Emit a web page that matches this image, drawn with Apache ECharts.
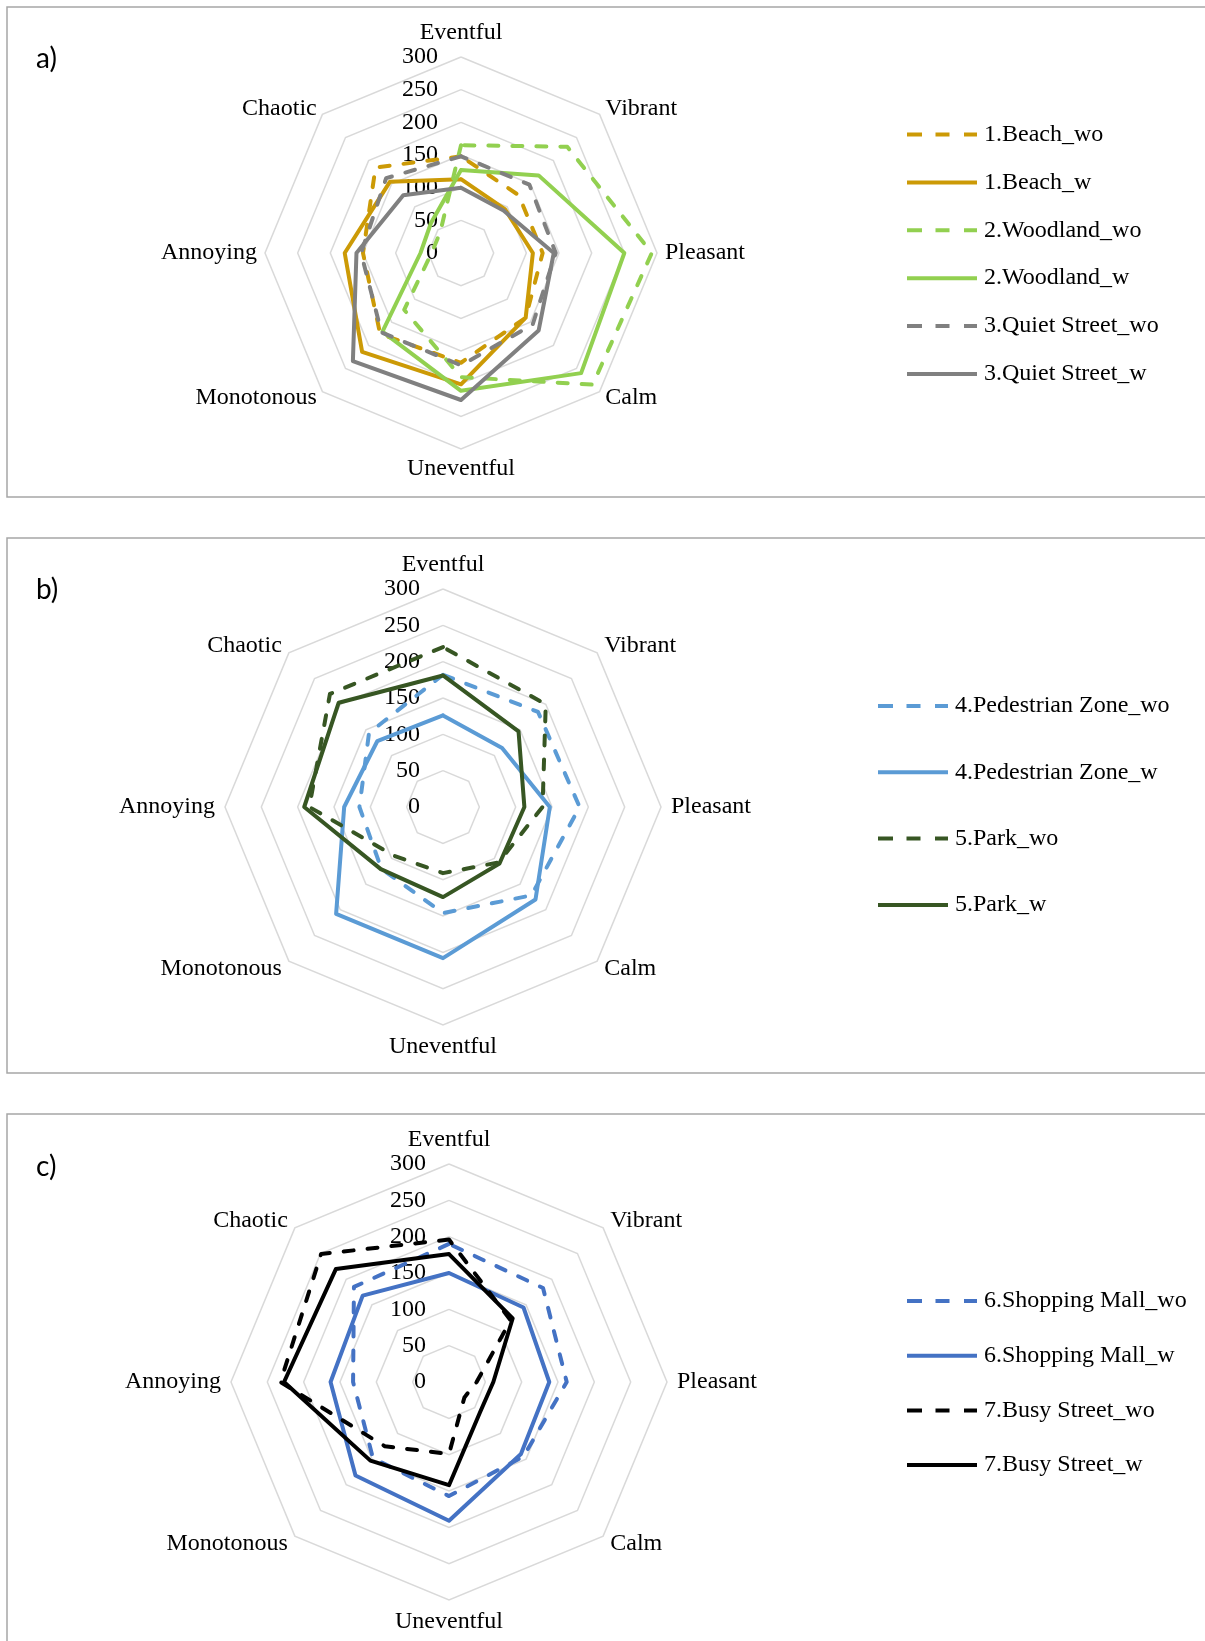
<!DOCTYPE html>
<html>
<head>
<meta charset="utf-8">
<script src="https://cdn.jsdelivr.net/npm/echarts@6/dist/echarts.min.js"></script>
<style>
  html, body { margin: 0; padding: 0; background: #fff; }
  #chart { width: 1205px; height: 1641px; }
</style>
</head>
<body>
<div id="chart"></div>
<script>
// Soundscape attributes, listed clockwise from the top
const dimensions = ['Eventful', 'Vibrant', 'Pleasant', 'Calm', 'Uneventful', 'Monotonous', 'Annoying', 'Chaotic'];
const tickLabels = [0, 50, 100, 150, 200, 250, 300];

// a) natural / quiet sites
const beachWo       = [148, 125, 125, 140, 168, 175, 150, 185];
const beachW        = [113,  95, 110, 140, 201, 214, 178, 154];
const woodlandWo    = [165, 230, 292, 285, 190, 123,  45,  45];
const woodlandW     = [127, 168, 250, 260, 211, 170,  62,  65];
const quietStreetWo = [148, 148, 145, 155, 172, 172, 153, 162];
const quietStreetW  = [100,  92, 142, 168, 225, 234, 160, 125];

// b) pedestrian zone and park
const pedestrianWo  = [182, 185, 188, 172, 146, 120, 115, 144];
const pedestrianW   = [126, 115, 147, 180, 208, 208, 136, 128];
const parkWo        = [220, 200, 137, 108,  91,  95, 184, 220];
const parkW         = [181, 147, 112, 110, 124, 121, 191, 203];

// c) busy urban sites
const mallWo        = [190, 183, 162, 145, 157, 148, 132, 185];
const mallW         = [150, 145, 138, 140, 191, 182, 163, 168];
const busyStreetWo  = [196, 120,  38,  30,  99, 125, 232, 249];
const busyStreetW   = [176, 124,  61,  60, 142, 153, 227, 220];

const SERIF = '"Liberation Serif", "Times New Roman", serif';
const FS = 24;

// ECharts lays radar indicators out counter-clockwise, so flip the order
function ccw(arr) { return [arr[0]].concat(arr.slice(1).reverse()); }

const panels = [
  {
    label: 'a)', labelY: 59, center: [461, 253], radius: 196, nameGap: 8,
    legend: { left: 907, top: 122.5, gap: 23.9 },
    series: [
      { name: '1.Beach_wo', values: beachWo, color: '#CC9A06', dashed: true },
      { name: '1.Beach_w', values: beachW, color: '#CC9A06', dashed: false },
      { name: '2.Woodland_wo', values: woodlandWo, color: '#92D050', dashed: true },
      { name: '2.Woodland_w', values: woodlandW, color: '#92D050', dashed: false },
      { name: '3.Quiet Street_wo', values: quietStreetWo, color: '#808080', dashed: true },
      { name: '3.Quiet Street_w', values: quietStreetW, color: '#808080', dashed: false }
    ]
  },
  {
    label: 'b)', labelY: 590, center: [443, 807], radius: 218, nameGap: 10,
    legend: { left: 878, top: 694, gap: 42.3 },
    series: [
      { name: '4.Pedestrian Zone_wo', values: pedestrianWo, color: '#5B9BD5', dashed: true },
      { name: '4.Pedestrian Zone_w', values: pedestrianW, color: '#5B9BD5', dashed: false },
      { name: '5.Park_wo', values: parkWo, color: '#375623', dashed: true },
      { name: '5.Park_w', values: parkW, color: '#375623', dashed: false }
    ]
  },
  {
    label: 'c)', labelY: 1167, center: [449, 1382], radius: 218, nameGap: 10,
    legend: { left: 907, top: 1289, gap: 30.7 },
    series: [
      { name: '6.Shopping Mall_wo', values: mallWo, color: '#4472C4', dashed: true },
      { name: '6.Shopping Mall_w', values: mallW, color: '#4472C4', dashed: false },
      { name: '7.Busy Street_wo', values: busyStreetWo, color: '#000000', dashed: true },
      { name: '7.Busy Street_w', values: busyStreetW, color: '#000000', dashed: false }
    ]
  }
];

const DASH_ICON = 'path://M0,0h15v4h-15z M28.5,0h14v4h-14z M57,0h13v4h-13z';
const SOLID_ICON = 'path://M0,0h70v4h-70z';

const option = {
  animation: false,
  backgroundColor: '#fff',
  radar: [],
  legend: [],
  series: [],
  graphic: []
};

// panel frames (open on the right)
const frames = [
  { y: 7, h: 490 },
  { y: 538, h: 535 },
  { y: 1114, h: 600 }
];
frames.forEach(f => {
  option.graphic.push({
    type: 'rect', silent: true,
    shape: { x: 7, y: f.y, width: 1400, height: f.h },
    style: { fill: 'none', stroke: '#A6A6A6', lineWidth: 1.5 }
  });
});

panels.forEach((p, k) => {
  option.graphic.push({
    type: 'text', silent: true,
    style: { x: 36, y: p.labelY, text: p.label, font: '28px Lato, "Open Sans", sans-serif',
             fill: '#000', verticalAlign: 'middle' }
  });

  option.radar.push({
    center: p.center,
    radius: p.radius,
    startAngle: 90,
    splitNumber: 6,
    shape: 'polygon',
    nameGap: p.nameGap,
    indicator: ccw(dimensions).map((n, i) => {
      const ind = { name: n, min: 0, max: 300 };
      if (i === 0) ind.axisLabel = { show: true };
      return ind;
    }),
    axisName: {
      color: '#000', fontFamily: SERIF, fontSize: FS,
      lineHeight: 18, padding: [3, 0, 0, 0]
    },
    axisLine: { show: false },
    axisTick: { show: false },
    axisLabel: {
      show: false, color: '#000', fontFamily: SERIF, fontSize: FS, margin: 23,
      formatter: v => (tickLabels.indexOf(v) >= 0 ? String(v) : '')
    },
    splitLine: { lineStyle: { color: '#D9D9D9', width: 1.5 } },
    splitArea: { show: false }
  });

  option.legend.push({
    orient: 'vertical',
    left: p.legend.left,
    top: p.legend.top,
    padding: 0,
    itemGap: p.legend.gap,
    itemWidth: 70,
    itemHeight: 4,
    selectedMode: false,
    textStyle: { fontFamily: SERIF, fontSize: FS, color: '#000', lineHeight: 24, padding: [0, 0, 0, 2] },
    data: p.series.map(s => ({
      name: s.name,
      icon: s.dashed ? DASH_ICON : SOLID_ICON,
      itemStyle: { color: s.color, borderWidth: 0 }
    }))
  });

  p.series.forEach(s => {
    option.series.push({
      type: 'radar',
      radarIndex: k,
      name: s.name,
      symbol: 'none',
      z: 3,
      lineStyle: {
        color: s.color, width: 4,
        type: s.dashed ? [10, 14] : 'solid',
        cap: 'round', join: 'round'
      },
      itemStyle: { color: s.color },
      emphasis: { disabled: true },
      data: [{ name: s.name, value: ccw(s.values) }]
    });
  });
});

const chart = echarts.init(document.getElementById('chart'), null, { renderer: 'canvas' });
chart.setOption(option);
</script>
</body>
</html>
